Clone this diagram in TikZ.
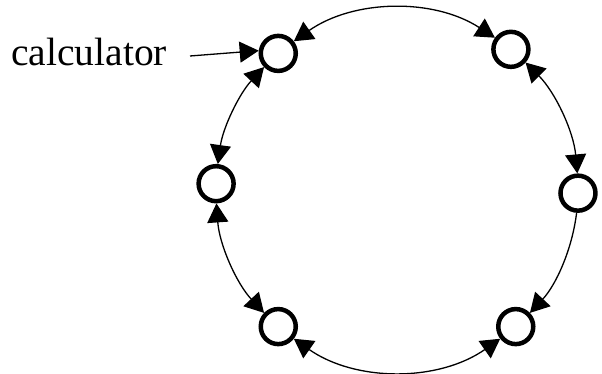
\documentclass[tikz,border=0pt]{standalone}
\usepackage{fontspec}
\setmainfont{Liberation Serif}
\usetikzlibrary{arrows.meta}
% arc along the ring from node #1 (ring angle #2) clockwise to node #3 (ring angle #4)
\newcommand\ringarc[5]{%
  \pgfmathsetmacro\rsa{Mod(#2-93,360)}%
  \pgfmathsetmacro\roa{#2-96}%
  \pgfmathsetmacro\rsb{Mod(#4+93,360)}%
  \pgfmathsetmacro\rib{#4+96}%
  \pgfmathsetmacro\rdd{4/3*tan((#2-#4-12.5)/4)*181}%
  \draw[link,#5] (#1.\rsa) to[out=\roa,in=\rib,distance=\rdd pt] (#3.\rsb);%
}
\begin{document}
\begin{tikzpicture}[x=1pt,y=1pt,
  calc/.style={circle,draw,line width=4.5pt,minimum size=35pt,inner sep=0pt},
  link/.style={line width=1.3pt},
  tip/.tip={Triangle[length=19pt,width=21pt]}]
\useasboundingbox (0,0) rectangle (602,374);
\coordinate (c) at (397,184);
\node[calc] (n1) at ([shift={(c)}]131:181) {};
\node[calc] (n2) at ([shift={(c)}]51:181) {};
\node[calc] (n4) at ([shift={(c)}]-1:181) {};
\node[calc] (n6) at ([shift={(c)}]-49:181) {};
\node[calc] (n5) at ([shift={(c)}]229:181) {};
\node[calc] (n3) at ([shift={(c)}]178:181) {};
\node[anchor=base west,inner sep=0pt,font=\fontsize{39.5}{42}\selectfont] (lab) at (11,308) {calculator};
\coordinate (ls) at (190,318);
\draw[link,-tip] (ls) -- (n1.172);
\ringarc{n1}{131}{n2}{51}{tip-tip}
\ringarc{n2}{51}{n4}{-1}{tip-tip}
\ringarc{n4}{-1}{n6}{-49}{-tip}
\ringarc{n6}{-49}{n5}{-131}{tip-tip}
\ringarc{n5}{229}{n3}{178}{tip-tip}
\ringarc{n3}{178}{n1}{131}{tip-tip}
\end{tikzpicture}
\end{document}
